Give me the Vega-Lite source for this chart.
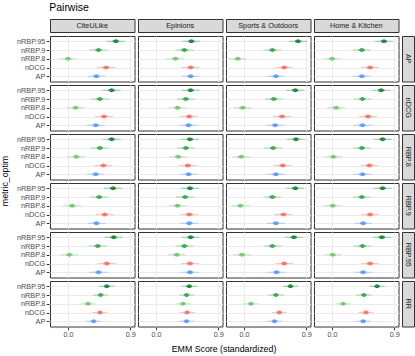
{
  "$schema": "https://vega.github.io/schema/vega-lite/v6.json",
  "padding": {"left": 1, "top": 3, "right": 3, "bottom": 2},
  "background": "white",
  "title": {"text": "Pairwise", "anchor": "start", "fontSize": 10.5, "font": "Liberation Sans", "fontWeight": "normal", "color": "#000000", "dx": 48, "offset": 5},
  "columns": 2,
  "align": "each",
  "spacing": {"row": 2, "column": 1},
  "datasets": {
    "cols": [{"d": "CiteULike"}, {"d": "Epinions"}, {"d": "Sports & Outdoors"}, {"d": "Home & Kitchen"}],
    "rows": [{"m": "AP"}, {"m": "nDCG"}, {"m": "RBP.8"}, {"m": "RBP.9"}, {"m": "RBP.95"}, {"m": "RR"}],
    "est": [
      {"d": "CiteULike", "m": "AP", "e": "nRBP.95", "v": 0.69, "lo": 0.56, "hi": 0.82, "l2": 0.645, "h2": 0.735},
      {"d": "CiteULike", "m": "AP", "e": "nRBP.9", "v": 0.44, "lo": 0.31, "hi": 0.57, "l2": 0.395, "h2": 0.485},
      {"d": "CiteULike", "m": "AP", "e": "nRBP.8", "v": 0.0, "lo": -0.13, "hi": 0.13, "l2": -0.045, "h2": 0.045},
      {"d": "CiteULike", "m": "AP", "e": "nDCG", "v": 0.55, "lo": 0.42, "hi": 0.68, "l2": 0.505, "h2": 0.595},
      {"d": "CiteULike", "m": "AP", "e": "AP", "v": 0.41, "lo": 0.28, "hi": 0.54, "l2": 0.365, "h2": 0.455},
      {"d": "CiteULike", "m": "nDCG", "e": "nRBP.95", "v": 0.63, "lo": 0.50, "hi": 0.76, "l2": 0.585, "h2": 0.675},
      {"d": "CiteULike", "m": "nDCG", "e": "nRBP.9", "v": 0.46, "lo": 0.33, "hi": 0.59, "l2": 0.415, "h2": 0.505},
      {"d": "CiteULike", "m": "nDCG", "e": "nRBP.8", "v": 0.11, "lo": -0.02, "hi": 0.24, "l2": 0.065, "h2": 0.155},
      {"d": "CiteULike", "m": "nDCG", "e": "nDCG", "v": 0.52, "lo": 0.39, "hi": 0.65, "l2": 0.475, "h2": 0.565},
      {"d": "CiteULike", "m": "nDCG", "e": "AP", "v": 0.40, "lo": 0.27, "hi": 0.53, "l2": 0.355, "h2": 0.445},
      {"d": "CiteULike", "m": "RBP.8", "e": "nRBP.95", "v": 0.63, "lo": 0.50, "hi": 0.76, "l2": 0.585, "h2": 0.675},
      {"d": "CiteULike", "m": "RBP.8", "e": "nRBP.9", "v": 0.46, "lo": 0.33, "hi": 0.59, "l2": 0.415, "h2": 0.505},
      {"d": "CiteULike", "m": "RBP.8", "e": "nRBP.8", "v": 0.12, "lo": -0.01, "hi": 0.25, "l2": 0.075, "h2": 0.165},
      {"d": "CiteULike", "m": "RBP.8", "e": "nDCG", "v": 0.51, "lo": 0.38, "hi": 0.64, "l2": 0.465, "h2": 0.555},
      {"d": "CiteULike", "m": "RBP.8", "e": "AP", "v": 0.40, "lo": 0.27, "hi": 0.53, "l2": 0.355, "h2": 0.445},
      {"d": "CiteULike", "m": "RBP.9", "e": "nRBP.95", "v": 0.65, "lo": 0.52, "hi": 0.78, "l2": 0.605, "h2": 0.695},
      {"d": "CiteULike", "m": "RBP.9", "e": "nRBP.9", "v": 0.45, "lo": 0.32, "hi": 0.58, "l2": 0.405, "h2": 0.495},
      {"d": "CiteULike", "m": "RBP.9", "e": "nRBP.8", "v": 0.06, "lo": -0.07, "hi": 0.19, "l2": 0.015, "h2": 0.105},
      {"d": "CiteULike", "m": "RBP.9", "e": "nDCG", "v": 0.53, "lo": 0.40, "hi": 0.66, "l2": 0.485, "h2": 0.575},
      {"d": "CiteULike", "m": "RBP.9", "e": "AP", "v": 0.41, "lo": 0.28, "hi": 0.54, "l2": 0.365, "h2": 0.455},
      {"d": "CiteULike", "m": "RBP.95", "e": "nRBP.95", "v": 0.66, "lo": 0.53, "hi": 0.79, "l2": 0.615, "h2": 0.705},
      {"d": "CiteULike", "m": "RBP.95", "e": "nRBP.9", "v": 0.43, "lo": 0.30, "hi": 0.56, "l2": 0.385, "h2": 0.475},
      {"d": "CiteULike", "m": "RBP.95", "e": "nRBP.8", "v": 0.02, "lo": -0.11, "hi": 0.15, "l2": -0.025, "h2": 0.065},
      {"d": "CiteULike", "m": "RBP.95", "e": "nDCG", "v": 0.56, "lo": 0.43, "hi": 0.69, "l2": 0.515, "h2": 0.605},
      {"d": "CiteULike", "m": "RBP.95", "e": "AP", "v": 0.44, "lo": 0.31, "hi": 0.57, "l2": 0.395, "h2": 0.485},
      {"d": "CiteULike", "m": "RR", "e": "nRBP.95", "v": 0.56, "lo": 0.45, "hi": 0.67, "l2": 0.52, "h2": 0.60},
      {"d": "CiteULike", "m": "RR", "e": "nRBP.9", "v": 0.47, "lo": 0.36, "hi": 0.58, "l2": 0.43, "h2": 0.51},
      {"d": "CiteULike", "m": "RR", "e": "nRBP.8", "v": 0.29, "lo": 0.18, "hi": 0.40, "l2": 0.25, "h2": 0.33},
      {"d": "CiteULike", "m": "RR", "e": "nDCG", "v": 0.46, "lo": 0.35, "hi": 0.57, "l2": 0.42, "h2": 0.50},
      {"d": "CiteULike", "m": "RR", "e": "AP", "v": 0.37, "lo": 0.26, "hi": 0.48, "l2": 0.33, "h2": 0.41},
      {"d": "Epinions", "m": "AP", "e": "nRBP.95", "v": 0.51, "lo": 0.38, "hi": 0.64, "l2": 0.465, "h2": 0.555},
      {"d": "Epinions", "m": "AP", "e": "nRBP.9", "v": 0.41, "lo": 0.28, "hi": 0.54, "l2": 0.365, "h2": 0.455},
      {"d": "Epinions", "m": "AP", "e": "nRBP.8", "v": 0.28, "lo": 0.15, "hi": 0.41, "l2": 0.235, "h2": 0.325},
      {"d": "Epinions", "m": "AP", "e": "nDCG", "v": 0.50, "lo": 0.37, "hi": 0.63, "l2": 0.455, "h2": 0.545},
      {"d": "Epinions", "m": "AP", "e": "AP", "v": 0.50, "lo": 0.37, "hi": 0.63, "l2": 0.455, "h2": 0.545},
      {"d": "Epinions", "m": "nDCG", "e": "nRBP.95", "v": 0.50, "lo": 0.37, "hi": 0.63, "l2": 0.455, "h2": 0.545},
      {"d": "Epinions", "m": "nDCG", "e": "nRBP.9", "v": 0.43, "lo": 0.30, "hi": 0.56, "l2": 0.385, "h2": 0.475},
      {"d": "Epinions", "m": "nDCG", "e": "nRBP.8", "v": 0.31, "lo": 0.18, "hi": 0.44, "l2": 0.265, "h2": 0.355},
      {"d": "Epinions", "m": "nDCG", "e": "nDCG", "v": 0.48, "lo": 0.35, "hi": 0.61, "l2": 0.435, "h2": 0.525},
      {"d": "Epinions", "m": "nDCG", "e": "AP", "v": 0.47, "lo": 0.34, "hi": 0.60, "l2": 0.425, "h2": 0.515},
      {"d": "Epinions", "m": "RBP.8", "e": "nRBP.95", "v": 0.49, "lo": 0.36, "hi": 0.62, "l2": 0.445, "h2": 0.535},
      {"d": "Epinions", "m": "RBP.8", "e": "nRBP.9", "v": 0.43, "lo": 0.30, "hi": 0.56, "l2": 0.385, "h2": 0.475},
      {"d": "Epinions", "m": "RBP.8", "e": "nRBP.8", "v": 0.32, "lo": 0.19, "hi": 0.45, "l2": 0.275, "h2": 0.365},
      {"d": "Epinions", "m": "RBP.8", "e": "nDCG", "v": 0.46, "lo": 0.33, "hi": 0.59, "l2": 0.415, "h2": 0.505},
      {"d": "Epinions", "m": "RBP.8", "e": "AP", "v": 0.47, "lo": 0.34, "hi": 0.60, "l2": 0.425, "h2": 0.515},
      {"d": "Epinions", "m": "RBP.9", "e": "nRBP.95", "v": 0.49, "lo": 0.36, "hi": 0.62, "l2": 0.445, "h2": 0.535},
      {"d": "Epinions", "m": "RBP.9", "e": "nRBP.9", "v": 0.42, "lo": 0.29, "hi": 0.55, "l2": 0.375, "h2": 0.465},
      {"d": "Epinions", "m": "RBP.9", "e": "nRBP.8", "v": 0.31, "lo": 0.18, "hi": 0.44, "l2": 0.265, "h2": 0.355},
      {"d": "Epinions", "m": "RBP.9", "e": "nDCG", "v": 0.48, "lo": 0.35, "hi": 0.61, "l2": 0.435, "h2": 0.525},
      {"d": "Epinions", "m": "RBP.9", "e": "AP", "v": 0.48, "lo": 0.35, "hi": 0.61, "l2": 0.435, "h2": 0.525},
      {"d": "Epinions", "m": "RBP.95", "e": "nRBP.95", "v": 0.50, "lo": 0.37, "hi": 0.63, "l2": 0.455, "h2": 0.545},
      {"d": "Epinions", "m": "RBP.95", "e": "nRBP.9", "v": 0.41, "lo": 0.28, "hi": 0.54, "l2": 0.365, "h2": 0.455},
      {"d": "Epinions", "m": "RBP.95", "e": "nRBP.8", "v": 0.30, "lo": 0.17, "hi": 0.43, "l2": 0.255, "h2": 0.345},
      {"d": "Epinions", "m": "RBP.95", "e": "nDCG", "v": 0.49, "lo": 0.36, "hi": 0.62, "l2": 0.445, "h2": 0.535},
      {"d": "Epinions", "m": "RBP.95", "e": "AP", "v": 0.49, "lo": 0.36, "hi": 0.62, "l2": 0.445, "h2": 0.535},
      {"d": "Epinions", "m": "RR", "e": "nRBP.95", "v": 0.48, "lo": 0.37, "hi": 0.59, "l2": 0.44, "h2": 0.52},
      {"d": "Epinions", "m": "RR", "e": "nRBP.9", "v": 0.44, "lo": 0.33, "hi": 0.55, "l2": 0.40, "h2": 0.48},
      {"d": "Epinions", "m": "RR", "e": "nRBP.8", "v": 0.39, "lo": 0.28, "hi": 0.50, "l2": 0.35, "h2": 0.43},
      {"d": "Epinions", "m": "RR", "e": "nDCG", "v": 0.45, "lo": 0.34, "hi": 0.56, "l2": 0.41, "h2": 0.49},
      {"d": "Epinions", "m": "RR", "e": "AP", "v": 0.44, "lo": 0.33, "hi": 0.55, "l2": 0.40, "h2": 0.48},
      {"d": "Sports & Outdoors", "m": "AP", "e": "nRBP.95", "v": 0.78, "lo": 0.65, "hi": 0.91, "l2": 0.735, "h2": 0.825},
      {"d": "Sports & Outdoors", "m": "AP", "e": "nRBP.9", "v": 0.41, "lo": 0.28, "hi": 0.54, "l2": 0.365, "h2": 0.455},
      {"d": "Sports & Outdoors", "m": "AP", "e": "nRBP.8", "v": -0.09, "lo": -0.22, "hi": 0.04, "l2": -0.135, "h2": -0.045},
      {"d": "Sports & Outdoors", "m": "AP", "e": "nDCG", "v": 0.58, "lo": 0.45, "hi": 0.71, "l2": 0.535, "h2": 0.625},
      {"d": "Sports & Outdoors", "m": "AP", "e": "AP", "v": 0.46, "lo": 0.33, "hi": 0.59, "l2": 0.415, "h2": 0.505},
      {"d": "Sports & Outdoors", "m": "nDCG", "e": "nRBP.95", "v": 0.74, "lo": 0.61, "hi": 0.87, "l2": 0.695, "h2": 0.785},
      {"d": "Sports & Outdoors", "m": "nDCG", "e": "nRBP.9", "v": 0.43, "lo": 0.30, "hi": 0.56, "l2": 0.385, "h2": 0.475},
      {"d": "Sports & Outdoors", "m": "nDCG", "e": "nRBP.8", "v": -0.02, "lo": -0.15, "hi": 0.11, "l2": -0.065, "h2": 0.025},
      {"d": "Sports & Outdoors", "m": "nDCG", "e": "nDCG", "v": 0.55, "lo": 0.42, "hi": 0.68, "l2": 0.505, "h2": 0.595},
      {"d": "Sports & Outdoors", "m": "nDCG", "e": "AP", "v": 0.45, "lo": 0.32, "hi": 0.58, "l2": 0.405, "h2": 0.495},
      {"d": "Sports & Outdoors", "m": "RBP.8", "e": "nRBP.95", "v": 0.75, "lo": 0.62, "hi": 0.88, "l2": 0.705, "h2": 0.795},
      {"d": "Sports & Outdoors", "m": "RBP.8", "e": "nRBP.9", "v": 0.42, "lo": 0.29, "hi": 0.55, "l2": 0.375, "h2": 0.465},
      {"d": "Sports & Outdoors", "m": "RBP.8", "e": "nRBP.8", "v": -0.04, "lo": -0.17, "hi": 0.09, "l2": -0.085, "h2": 0.005},
      {"d": "Sports & Outdoors", "m": "RBP.8", "e": "nDCG", "v": 0.56, "lo": 0.43, "hi": 0.69, "l2": 0.515, "h2": 0.605},
      {"d": "Sports & Outdoors", "m": "RBP.8", "e": "AP", "v": 0.46, "lo": 0.33, "hi": 0.59, "l2": 0.415, "h2": 0.505},
      {"d": "Sports & Outdoors", "m": "RBP.9", "e": "nRBP.95", "v": 0.74, "lo": 0.61, "hi": 0.87, "l2": 0.695, "h2": 0.785},
      {"d": "Sports & Outdoors", "m": "RBP.9", "e": "nRBP.9", "v": 0.41, "lo": 0.28, "hi": 0.54, "l2": 0.365, "h2": 0.455},
      {"d": "Sports & Outdoors", "m": "RBP.9", "e": "nRBP.8", "v": -0.05, "lo": -0.18, "hi": 0.08, "l2": -0.095, "h2": -0.005},
      {"d": "Sports & Outdoors", "m": "RBP.9", "e": "nDCG", "v": 0.57, "lo": 0.44, "hi": 0.70, "l2": 0.525, "h2": 0.615},
      {"d": "Sports & Outdoors", "m": "RBP.9", "e": "AP", "v": 0.46, "lo": 0.33, "hi": 0.59, "l2": 0.415, "h2": 0.505},
      {"d": "Sports & Outdoors", "m": "RBP.95", "e": "nRBP.95", "v": 0.72, "lo": 0.59, "hi": 0.85, "l2": 0.675, "h2": 0.765},
      {"d": "Sports & Outdoors", "m": "RBP.95", "e": "nRBP.9", "v": 0.41, "lo": 0.28, "hi": 0.54, "l2": 0.365, "h2": 0.455},
      {"d": "Sports & Outdoors", "m": "RBP.95", "e": "nRBP.8", "v": -0.03, "lo": -0.16, "hi": 0.10, "l2": -0.075, "h2": 0.015},
      {"d": "Sports & Outdoors", "m": "RBP.95", "e": "nDCG", "v": 0.58, "lo": 0.45, "hi": 0.71, "l2": 0.535, "h2": 0.625},
      {"d": "Sports & Outdoors", "m": "RBP.95", "e": "AP", "v": 0.47, "lo": 0.34, "hi": 0.60, "l2": 0.425, "h2": 0.515},
      {"d": "Sports & Outdoors", "m": "RR", "e": "nRBP.95", "v": 0.67, "lo": 0.56, "hi": 0.78, "l2": 0.63, "h2": 0.71},
      {"d": "Sports & Outdoors", "m": "RR", "e": "nRBP.9", "v": 0.46, "lo": 0.35, "hi": 0.57, "l2": 0.42, "h2": 0.50},
      {"d": "Sports & Outdoors", "m": "RR", "e": "nRBP.8", "v": 0.10, "lo": -0.01, "hi": 0.21, "l2": 0.06, "h2": 0.14},
      {"d": "Sports & Outdoors", "m": "RR", "e": "nDCG", "v": 0.51, "lo": 0.40, "hi": 0.62, "l2": 0.47, "h2": 0.55},
      {"d": "Sports & Outdoors", "m": "RR", "e": "AP", "v": 0.44, "lo": 0.33, "hi": 0.55, "l2": 0.40, "h2": 0.48},
      {"d": "Home & Kitchen", "m": "AP", "e": "nRBP.95", "v": 0.75, "lo": 0.62, "hi": 0.88, "l2": 0.705, "h2": 0.795},
      {"d": "Home & Kitchen", "m": "AP", "e": "nRBP.9", "v": 0.43, "lo": 0.30, "hi": 0.56, "l2": 0.385, "h2": 0.475},
      {"d": "Home & Kitchen", "m": "AP", "e": "nRBP.8", "v": 0.00, "lo": -0.13, "hi": 0.13, "l2": -0.045, "h2": 0.045},
      {"d": "Home & Kitchen", "m": "AP", "e": "nDCG", "v": 0.55, "lo": 0.42, "hi": 0.68, "l2": 0.505, "h2": 0.595},
      {"d": "Home & Kitchen", "m": "AP", "e": "AP", "v": 0.43, "lo": 0.30, "hi": 0.56, "l2": 0.385, "h2": 0.475},
      {"d": "Home & Kitchen", "m": "nDCG", "e": "nRBP.95", "v": 0.71, "lo": 0.58, "hi": 0.84, "l2": 0.665, "h2": 0.755},
      {"d": "Home & Kitchen", "m": "nDCG", "e": "nRBP.9", "v": 0.44, "lo": 0.31, "hi": 0.57, "l2": 0.395, "h2": 0.485},
      {"d": "Home & Kitchen", "m": "nDCG", "e": "nRBP.8", "v": 0.06, "lo": -0.07, "hi": 0.19, "l2": 0.015, "h2": 0.105},
      {"d": "Home & Kitchen", "m": "nDCG", "e": "nDCG", "v": 0.52, "lo": 0.39, "hi": 0.65, "l2": 0.475, "h2": 0.565},
      {"d": "Home & Kitchen", "m": "nDCG", "e": "AP", "v": 0.44, "lo": 0.31, "hi": 0.57, "l2": 0.395, "h2": 0.485},
      {"d": "Home & Kitchen", "m": "RBP.8", "e": "nRBP.95", "v": 0.73, "lo": 0.60, "hi": 0.86, "l2": 0.685, "h2": 0.775},
      {"d": "Home & Kitchen", "m": "RBP.8", "e": "nRBP.9", "v": 0.43, "lo": 0.30, "hi": 0.56, "l2": 0.385, "h2": 0.475},
      {"d": "Home & Kitchen", "m": "RBP.8", "e": "nRBP.8", "v": 0.02, "lo": -0.11, "hi": 0.15, "l2": -0.025, "h2": 0.065},
      {"d": "Home & Kitchen", "m": "RBP.8", "e": "nDCG", "v": 0.54, "lo": 0.41, "hi": 0.67, "l2": 0.495, "h2": 0.585},
      {"d": "Home & Kitchen", "m": "RBP.8", "e": "AP", "v": 0.44, "lo": 0.31, "hi": 0.57, "l2": 0.395, "h2": 0.485},
      {"d": "Home & Kitchen", "m": "RBP.9", "e": "nRBP.95", "v": 0.73, "lo": 0.60, "hi": 0.86, "l2": 0.685, "h2": 0.775},
      {"d": "Home & Kitchen", "m": "RBP.9", "e": "nRBP.9", "v": 0.43, "lo": 0.30, "hi": 0.56, "l2": 0.385, "h2": 0.475},
      {"d": "Home & Kitchen", "m": "RBP.9", "e": "nRBP.8", "v": 0.01, "lo": -0.12, "hi": 0.14, "l2": -0.035, "h2": 0.055},
      {"d": "Home & Kitchen", "m": "RBP.9", "e": "nDCG", "v": 0.55, "lo": 0.42, "hi": 0.68, "l2": 0.505, "h2": 0.595},
      {"d": "Home & Kitchen", "m": "RBP.9", "e": "AP", "v": 0.45, "lo": 0.32, "hi": 0.58, "l2": 0.405, "h2": 0.495},
      {"d": "Home & Kitchen", "m": "RBP.95", "e": "nRBP.95", "v": 0.72, "lo": 0.59, "hi": 0.85, "l2": 0.675, "h2": 0.765},
      {"d": "Home & Kitchen", "m": "RBP.95", "e": "nRBP.9", "v": 0.44, "lo": 0.31, "hi": 0.57, "l2": 0.395, "h2": 0.485},
      {"d": "Home & Kitchen", "m": "RBP.95", "e": "nRBP.8", "v": 0.01, "lo": -0.12, "hi": 0.14, "l2": -0.035, "h2": 0.055},
      {"d": "Home & Kitchen", "m": "RBP.95", "e": "nDCG", "v": 0.55, "lo": 0.42, "hi": 0.68, "l2": 0.505, "h2": 0.595},
      {"d": "Home & Kitchen", "m": "RBP.95", "e": "AP", "v": 0.45, "lo": 0.32, "hi": 0.58, "l2": 0.405, "h2": 0.495},
      {"d": "Home & Kitchen", "m": "RR", "e": "nRBP.95", "v": 0.65, "lo": 0.54, "hi": 0.76, "l2": 0.61, "h2": 0.69},
      {"d": "Home & Kitchen", "m": "RR", "e": "nRBP.9", "v": 0.46, "lo": 0.35, "hi": 0.57, "l2": 0.42, "h2": 0.50},
      {"d": "Home & Kitchen", "m": "RR", "e": "nRBP.8", "v": 0.16, "lo": 0.05, "hi": 0.27, "l2": 0.12, "h2": 0.20},
      {"d": "Home & Kitchen", "m": "RR", "e": "nDCG", "v": 0.49, "lo": 0.38, "hi": 0.60, "l2": 0.45, "h2": 0.53},
      {"d": "Home & Kitchen", "m": "RR", "e": "AP", "v": 0.45, "lo": 0.34, "hi": 0.56, "l2": 0.41, "h2": 0.49}
    ]
  },
  "concat": [
    {
      "data": {"name": "cols"},
      "facet": {"column": {"field": "d", "type": "nominal", "sort": ["CiteULike", "Epinions", "Sports & Outdoors", "Home & Kitchen"], "header": {"labels": false, "title": null}}},
      "spacing": 2,
      "spec": {
        "width": 84.5,
        "height": 13,
        "view": {"fill": "#d9d9d9", "stroke": "#333333", "strokeWidth": 1},
        "mark": {"type": "text", "fontSize": 7.3, "color": "#1a1a1a", "font": "Liberation Sans", "baseline": "middle", "align": "center"},
        "encoding": {"text": {"field": "d", "type": "nominal"}}
      }
    },
    {
      "data": {"values": [{"t": ""}]},
      "width": 12,
      "height": 13,
      "view": {"stroke": null, "fill": null},
      "mark": {"type": "text"},
      "encoding": {"text": {"field": "t", "type": "nominal"}}
    },
    {
      "data": {"name": "est"},
      "facet": {
        "row": {"field": "m", "type": "nominal", "sort": ["AP", "nDCG", "RBP.8", "RBP.9", "RBP.95", "RR"], "header": {"labels": false, "labelPadding": 0, "title": "metric_optim", "titleOrient": "left", "titleFontSize": 8.8, "titleFontWeight": "normal", "titleColor": "#000000", "titleFont": "Liberation Sans", "titlePadding": -4}},
        "column": {"field": "d", "type": "nominal", "sort": ["CiteULike", "Epinions", "Sports & Outdoors", "Home & Kitchen"], "header": {"labels": false, "labelPadding": 0, "title": "EMM Score (standardized)", "titleOrient": "bottom", "titleFontSize": 8.8, "titleFontWeight": "normal", "titleColor": "#000000", "titleFont": "Liberation Sans", "titlePadding": -3}}
      },
      "spacing": {"row": 2, "column": 2},
      "spec": {
        "width": 84.5,
        "height": 45.5,
        "view": {"fill": "white", "stroke": "#333333", "strokeWidth": 1},
        "encoding": {
          "y": {
            "field": "e", "type": "nominal",
            "sort": ["nRBP.95", "nRBP.9", "nRBP.8", "nDCG", "AP"],
            "scale": {"type": "point", "padding": 0.6},
            "title": null,
            "axis": {"grid": true, "gridColor": "#ebebeb", "gridWidth": 1, "domain": false, "tickColor": "#333333", "tickSize": 2.75, "labelFontSize": 7.3, "labelColor": "#4d4d4d", "labelPadding": 1.5}
          },
          "color": {
            "field": "e", "type": "nominal",
            "scale": {"domain": ["nRBP.95", "nRBP.9", "nRBP.8", "nDCG", "AP"], "range": ["#1e8a3e", "#3faa55", "#78c97a", "#f8766d", "#619cff"]},
            "legend": null
          }
        },
        "layer": [
          {
            "mark": {"type": "rule", "strokeWidth": 1.1, "opacity": 0.4},
            "encoding": {
              "x": {
                "field": "lo", "type": "quantitative",
                "scale": {"domain": [-0.26, 0.96], "nice": false, "zero": false},
                "title": null,
                "axis": {
                  "values": [0, 0.3, 0.6, 0.9],
                  "format": ".1f",
                  "labelOverlap": false,
                  "labelFlush": false,
                  "labelBound": false,
                  "labelSeparation": 0,
                  "grid": true,
                  "gridColor": "#ebebeb",
                  "gridWidth": 1,
                  "domain": false, "tickColor": "#333333", "tickSize": 2.75,
                  "labelFontSize": 7.3, "labelColor": "#4d4d4d", "labelPadding": 0.5
                }
              },
              "x2": {"field": "hi"}
            }
          },
          {
            "mark": {"type": "rule", "strokeWidth": 2.2, "opacity": 0.75},
            "encoding": {
              "x": {"field": "l2", "type": "quantitative", "title": null},
              "x2": {"field": "h2"}
            }
          },
          {
            "mark": {"type": "point", "filled": true, "size": 18, "opacity": 1},
            "encoding": {
              "x": {"field": "v", "type": "quantitative", "title": null}
            }
          }
        ]
      }
    },
    {
      "data": {"name": "rows"},
      "facet": {"row": {"field": "m", "type": "nominal", "sort": ["AP", "nDCG", "RBP.8", "RBP.9", "RBP.95", "RR"], "header": {"labels": false, "title": null}}},
      "spacing": 2,
      "spec": {
        "width": 12,
        "height": 45.5,
        "view": {"fill": "#d9d9d9", "stroke": "#333333", "strokeWidth": 1},
        "mark": {"type": "text", "fontSize": 7.3, "color": "#1a1a1a", "font": "Liberation Sans", "angle": 90, "baseline": "middle", "align": "center"},
        "encoding": {"text": {"field": "m", "type": "nominal"}}
      }
    }
  ],
  "config": {
    "font": "Liberation Sans",
    "view": {"stroke": "#333333", "strokeWidth": 1},
    "axis": {"labelFont": "Liberation Sans", "titleFont": "Liberation Sans", "labelOverlap": false},
    "axisX": {"labelOverlap": false, "labelFlush": false}
  }
}
